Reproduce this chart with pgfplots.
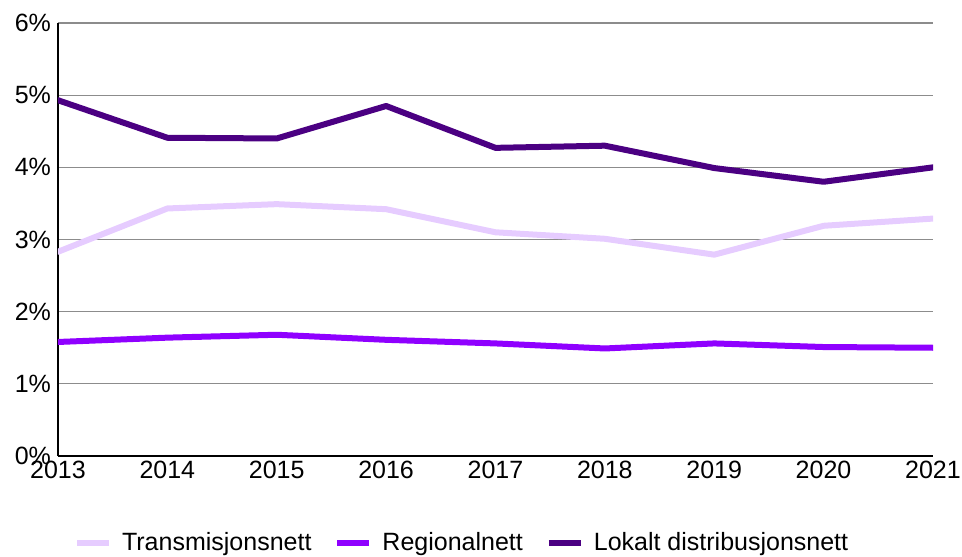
\documentclass[border=0pt]{standalone}
\usepackage{fontspec}
\setmainfont{Liberation Sans}
\usepackage{pgfplots}
\pgfplotsset{compat=1.18}
\definecolor{cLight}{HTML}{E6CCFF}
\definecolor{cMid}{HTML}{8F00FF}
\definecolor{cDark}{HTML}{4B0082}
\begin{document}
\begin{tikzpicture}
\useasboundingbox (-29pt,-50pt) rectangle (452pt,228pt);
\begin{axis}[
  at={(0,0)}, anchor=south west,
  scale only axis,
  width=437.5pt, height=216.5pt,
  xmin=2013, xmax=2021, ymin=0, ymax=6,
  xtick={2013,...,2021},
  xticklabels={2013,2014,2015,2016,2017,2018,2019,2020,2021},
  ytick={0,1,2,3,4,5,6},
  yticklabels={0\%,1\%,2\%,3\%,4\%,5\%,6\%},
  tick style={draw=none},
  font=\fontsize{12.5}{15}\selectfont,
  xticklabel style={yshift=1pt},
  axis x line*=bottom, axis y line*=left,
  axis line style={black, line width=0.6pt},
  ymajorgrids, grid style={gray!90, line width=0.6pt},
  legend columns=3,
  legend style={at={(0.463,0)}, anchor=center, yshift=-43.5pt, draw=none,
    font=\fontsize{12.5}{15}\selectfont,
    /tikz/every odd column/.append style={column sep=3pt},
    /tikz/every even column/.append style={column sep=9.5pt}},
  legend image code/.code={\draw[#1, line width=3pt, line cap=butt] (0pt,0pt) -- (16pt,0pt);},
  every axis plot/.append style={line width=3pt, line join=round, line cap=round},
]
\addplot[cLight] coordinates {(2013,2.83) (2014,3.43) (2015,3.49) (2016,3.42) (2017,3.10) (2018,3.01) (2019,2.79) (2020,3.19) (2021,3.29)};
\addlegendentry{Transmisjonsnett}
\addplot[cMid] coordinates {(2013,1.58) (2014,1.64) (2015,1.68) (2016,1.61) (2017,1.56) (2018,1.49) (2019,1.56) (2020,1.51) (2021,1.50)};
\addlegendentry{Regionalnett}
\addplot[cDark] coordinates {(2013,4.93) (2014,4.41) (2015,4.40) (2016,4.85) (2017,4.27) (2018,4.30) (2019,3.99) (2020,3.80) (2021,4.00)};
\addlegendentry{Lokalt distribusjonsnett}
\end{axis}
\end{tikzpicture}
\end{document}
